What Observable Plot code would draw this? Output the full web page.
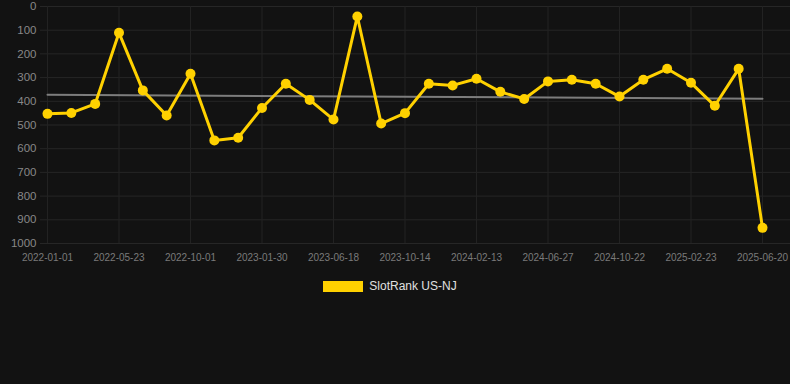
<!DOCTYPE html>
<html>
<head>
<meta charset="utf-8">
<script src="https://cdn.jsdelivr.net/npm/d3@7"></script>
<script src="https://cdn.jsdelivr.net/npm/@observablehq/plot@0.6"></script>
<style>
  html, body { margin: 0; padding: 0; background: #121212; }
  body { width: 790px; height: 384px; overflow: hidden; font-family: "Liberation Sans", Arial, sans-serif; }
  #legend { display: flex; justify-content: center; align-items: center; margin-top: 9px; gap: 6px; padding-right: 10px; }
  #legend .sw { width: 40px; height: 11px; background: #ffd100; }
  #legend .lb { color: #e0e0e0; font-size: 12px; }
</style>
</head>
<body>
<div id="chart"></div>
<div id="legend"><span class="sw"></span><span class="lb">SlotRank US-NJ</span></div>
<script>
const seriesName = "SlotRank US-NJ";
const dates = [
  "2022-01-01","2022-02-17","2022-04-05",
  "2022-05-23","2022-07-05","2022-08-18",
  "2022-10-01","2022-11-10","2022-12-20",
  "2023-01-30","2023-03-16","2023-05-02",
  "2023-06-18","2023-07-27","2023-09-04",
  "2023-10-14","2023-11-24","2024-01-03",
  "2024-02-13","2024-03-28","2024-05-12",
  "2024-06-27","2024-08-04","2024-09-13",
  "2024-10-22","2024-12-03","2025-01-13",
  "2025-02-23","2025-04-01","2025-05-11",
  "2025-06-20"
];
const ranks = [453,449,411,111,354,460,284,565,554,428,326,394,477,42,494,450,326,333,305,360,390,316,309,326,380,309,263,322,419,263,934];
const yTicks = [0,100,200,300,400,500,600,700,800,900,1000];
const xTickIdx = [0,3,6,9,12,15,18,21,24,27,30];

const data = ranks.map((v, i) => ({i, date: dates[i], v}));
const yellow = "#ffd100";

const chart = Plot.plot({
  width: 790,
  height: 270,
  marginLeft: 40,
  marginRight: 0,
  marginTop: 6,
  marginBottom: 27,
  style: {background: "#121212", color: "#888", fontFamily: "'Liberation Sans', Arial, sans-serif", fontSize: "11px"},
  x: {type: "linear", domain: [0, 30], range: [47, 762], ticks: xTickIdx, tickFormat: i => dates[i], tickSize: 0, tickPadding: 10, label: null},
  y: {domain: [0, 1000], reverse: true, ticks: yTicks, tickFormat: d => String(d), tickSize: 0, tickPadding: 4, label: null},
  marks: [
    Plot.ruleY(yTicks, {stroke: "#262626", strokeWidth: 1}),
    Plot.ruleX(xTickIdx, {stroke: "#222", strokeWidth: 1}),
    Plot.axisX({ticks: xTickIdx, tickFormat: i => dates[i], tickSize: 0, tickPadding: 10, fontSize: 10, fill: "#7a7a7a", label: null}),
    Plot.axisY({ticks: yTicks, tickFormat: d => String(d), tickSize: 0, tickPadding: 4, fontSize: 11.5, fill: "#888", label: null}),
    Plot.linearRegressionY(data, {x: "i", y: "v", ci: 0, stroke: "#7d7d7d", strokeWidth: 2}),
    Plot.line(data, {x: "i", y: "v", stroke: yellow, strokeWidth: 3}),
    Plot.dot(data, {x: "i", y: "v", fill: yellow, r: 5})
  ]
});
document.getElementById("chart").appendChild(chart);
</script>
</body>
</html>
